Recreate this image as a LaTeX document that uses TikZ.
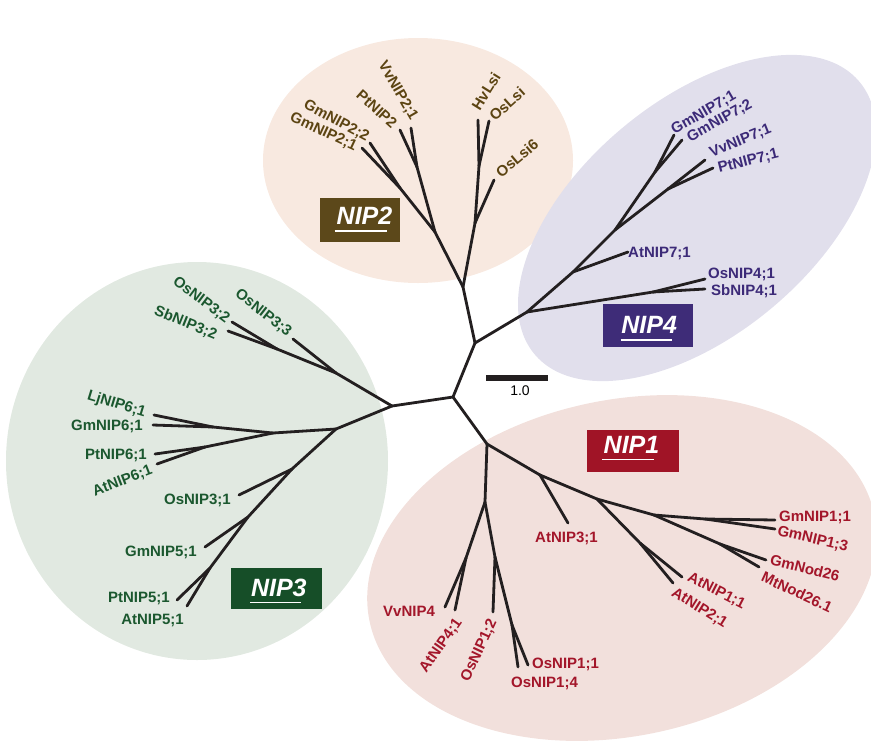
\documentclass[tikz,border=0pt]{standalone}
\usepackage{fontspec}
\setmainfont{Liberation Sans}
\definecolor{c2}{RGB}{92,68,18}
\definecolor{b2}{RGB}{92,72,26}
\definecolor{c4}{RGB}{60,42,120}
\definecolor{b4}{RGB}{62,44,120}
\definecolor{c3}{RGB}{27,88,47}
\definecolor{b3}{RGB}{22,78,40}
\definecolor{c1}{RGB}{163,22,42}
\definecolor{b1}{RGB}{160,20,38}
\definecolor{bg2}{RGB}{248,233,224}
\definecolor{bg4}{RGB}{225,223,236}
\definecolor{bg3}{RGB}{225,233,225}
\definecolor{bg1}{RGB}{242,224,220}
\definecolor{treecol}{RGB}{35,31,32}
\tikzset{
  br/.style={line width=2.8pt, draw=treecol, line cap=round, line join=round},
  lab/.style={font=\fontsize{15}{17}\selectfont\bfseries, inner sep=0pt, text height=10.8pt, text depth=0pt},
  la1/.style={lab, text=c1},
  la2/.style={lab, text=c2},
  la3/.style={lab, text=c3},
  la4/.style={lab, text=c4},
  gbox/.style={inner sep=0pt, draw=none},
  gtxt/.style={font=\fontsize{25}{28}\selectfont\bfseries\itshape, text=white, inner sep=0pt, text height=17.9pt, text depth=0pt, anchor=west},
  uline/.style={draw=white, line width=1.6pt}
}
\begin{document}
\begin{tikzpicture}[x=1pt,y=-1pt]
\useasboundingbox (0,0) rectangle (871,740);
% clade backgrounds
\fill[bg2] (418,160.5) ellipse [x radius=155pt, y radius=122.5pt];
\fill[bg4, rotate around={40:(697,218)}] (697,218) ellipse [x radius=212pt, y radius=117pt];
\fill[bg3] (197,461) ellipse [x radius=191pt, y radius=199pt];
\fill[bg1, rotate around={12:(622,568)}] (622,568) ellipse [x radius=258pt, y radius=168pt];

% clade boxes
\node[gbox, fill=b2, minimum width=80pt, minimum height=44pt] (box2) at (360,220) {};
\node[gtxt] (box2t) at (336.5,216) {NIP2};
\draw[uline] ([xshift=-2pt,yshift=-6pt]box2t.south west) -- ++(52,0);
\node[gbox, fill=b4, minimum width=90pt, minimum height=43pt] (box4) at (647.5,325) {};
\node[gtxt] (box4t) at (621.2,324.7) {NIP4};
\draw[uline] ([xshift=-0.5pt,yshift=-6pt]box4t.south west) -- ++(51,0);
\node[gbox, fill=b3, minimum width=91pt, minimum height=41pt] (box3) at (276.3,588) {};
\node[gtxt] (box3t) at (250.8,587.5) {NIP3};
\draw[uline] ([xshift=-0.5pt,yshift=-6pt]box3t.south west) -- ++(51,0);
\node[gbox, fill=b1, minimum width=92pt, minimum height=42pt] (box1) at (633,450.8) {};
\node[gtxt] (box1t) at (603.5,444.5) {NIP1};
\draw[uline] ([xshift=-1.2pt,yshift=-6pt]box1t.south west) -- ++(52,0);

% scale bar
\node[fill=treecol, minimum width=62pt, minimum height=5.6pt, inner sep=0pt] (bar) at (517,378) {};
\node[font=\fontsize{14}{16}\selectfont, inner sep=0pt] (barlab) at (520,391) {1.0};

% tree coordinates
\coordinate (A) at (475,343);
\coordinate (B) at (453,397);
\coordinate (C) at (392,406);
\coordinate (R1) at (487,444);
\coordinate (R2) at (463,287);
\coordinate (R4) at (527,312);
% NIP2
\coordinate (K) at (435,232);
\coordinate (L) at (400,188);
\coordinate (M) at (417,167);
\coordinate (N) at (475,223);
\coordinate (O) at (479,166);
\coordinate (lGm22) at (370,143);
\coordinate (lGm21) at (362,148);
\coordinate (lPt2) at (400,130);
\coordinate (lVv2) at (411,128);
\coordinate (lHv) at (478,120);
\coordinate (lOsL) at (489,121);
\coordinate (lOsL6) at (494,180);
% NIP4
\coordinate (P) at (573,272);
\coordinate (Q) at (615,230);
\coordinate (G7) at (655,172);
\coordinate (VP) at (668,189);
\coordinate (OS) at (653,292);
\coordinate (lGm71) at (674,135);
\coordinate (lGm72) at (682,140);
\coordinate (lVv7) at (705,160);
\coordinate (lPt7) at (713,168);
\coordinate (lAt7) at (628,252);
\coordinate (lOs4) at (705,279);
\coordinate (lSb4) at (705,289);
% NIP3
\coordinate (I) at (336,373);
\coordinate (J) at (277,349);
\coordinate (lOs32) at (232,322);
\coordinate (lSb32) at (228,331);
\coordinate (lOs33) at (293,339);
\coordinate (D) at (336,429);
\coordinate (E) at (273,433);
\coordinate (LG) at (213,427);
\coordinate (PA) at (205,447);
\coordinate (lLj6) at (154,415);
\coordinate (lGm6) at (153,425);
\coordinate (lPt6) at (155,454);
\coordinate (lAt6) at (157,464);
\coordinate (F) at (292,469);
\coordinate (lOs31) at (239,495);
\coordinate (G) at (248,517);
\coordinate (lGm5) at (205,547);
\coordinate (H) at (210,568);
\coordinate (lPt5) at (177,600);
\coordinate (lAt5) at (187,606);
% NIP1
\coordinate (S) at (485,502);
\coordinate (Z1) at (466,558);
\coordinate (Z2) at (495,557);
\coordinate (Z3) at (512,625);
\coordinate (T) at (540,475);
\coordinate (U) at (597,499);
\coordinate (V) at (640,543);
\coordinate (W) at (654,515);
\coordinate (X) at (705,519);
\coordinate (Y) at (720,544);
\coordinate (lVv4) at (445,607);
\coordinate (lAt4) at (455,610);
\coordinate (lOs12) at (493,612);
\coordinate (lOs14) at (518,667);
\coordinate (lOs11) at (528,665);
\coordinate (lAt3) at (568,523);
\coordinate (lAt1) at (682,577);
\coordinate (lAt2) at (673,583);
\coordinate (lGm11) at (775,520);
\coordinate (lGm13) at (775,529);
\coordinate (lGmNod) at (766,560);
\coordinate (lMtNod) at (759,567);

% branches
\draw[br] (B) -- (A); \draw[br] (A) -- (R2); \draw[br] (A) -- (R4);
\draw[br] (B) -- (C); \draw[br] (B) -- (R1);
% NIP2
\draw[br] (R2) -- (K); \draw[br] (K) -- (L); \draw[br] (L) -- (lGm22); \draw[br] (L) -- (lGm21);
\draw[br] (K) -- (M); \draw[br] (M) -- (lPt2); \draw[br] (M) -- (lVv2);
\draw[br] (R2) -- (N); \draw[br] (N) -- (lOsL6); \draw[br] (N) -- (O);
\draw[br] (O) -- (lHv); \draw[br] (O) -- (lOsL);
% NIP4
\draw[br] (R4) -- (P); \draw[br] (P) -- (lAt7); \draw[br] (P) -- (Q);
\draw[br] (Q) -- (G7); \draw[br] (G7) -- (lGm71); \draw[br] (G7) -- (lGm72);
\draw[br] (Q) -- (VP); \draw[br] (VP) -- (lVv7); \draw[br] (VP) -- (lPt7);
\draw[br] (R4) -- (OS); \draw[br] (OS) -- (lOs4); \draw[br] (OS) -- (lSb4);
% NIP3
\draw[br] (C) -- (I); \draw[br] (I) -- (lOs33); \draw[br] (I) -- (J);
\draw[br] (J) -- (lOs32); \draw[br] (J) -- (lSb32);
\draw[br] (C) -- (D); \draw[br] (D) -- (E); \draw[br] (E) -- (LG);
\draw[br] (LG) -- (lLj6); \draw[br] (LG) -- (lGm6);
\draw[br] (E) -- (PA); \draw[br] (PA) -- (lPt6); \draw[br] (PA) -- (lAt6);
\draw[br] (D) -- (F); \draw[br] (F) -- (lOs31); \draw[br] (F) -- (G);
\draw[br] (G) -- (lGm5); \draw[br] (G) -- (H);
\draw[br] (H) -- (lPt5); \draw[br] (H) -- (lAt5);
% NIP1
\draw[br] (R1) -- (S); \draw[br] (S) -- (Z1); \draw[br] (Z1) -- (lVv4); \draw[br] (Z1) -- (lAt4);
\draw[br] (S) -- (Z2); \draw[br] (Z2) -- (lOs12); \draw[br] (Z2) -- (Z3);
\draw[br] (Z3) -- (lOs14); \draw[br] (Z3) -- (lOs11);
\draw[br] (R1) -- (T); \draw[br] (T) -- (lAt3); \draw[br] (T) -- (U);
\draw[br] (U) -- (V); \draw[br] (V) -- (lAt1); \draw[br] (V) -- (lAt2);
\draw[br] (U) -- (W); \draw[br] (W) -- (X); \draw[br] (X) -- (lGm11); \draw[br] (X) -- (lGm13);
\draw[br] (W) -- (Y); \draw[br] (Y) -- (lGmNod); \draw[br] (Y) -- (lMtNod);

% labels NIP2
\node[la2, rotate=-28] (tGm22) at (337,120) {GmNIP2;2};
\node[la2, rotate=-25] (tGm21) at (324,131) {GmNIP2;1};
\node[la2, rotate=-42] (tPt2) at (377,109) {PtNIP2};
\node[la2, rotate=-60] (tVv2) at (399,90) {VvNIP2;1};
\node[la2, rotate=58] (tHv) at (486,91) {HvLsi};
\node[la2, rotate=42] (tOsL) at (507,104) {OsLsi};
\node[la2, rotate=40] (tOsL6) at (517,158) {OsLsi6};
% labels NIP4
\node[la4, rotate=30] (tGm71) at (703,112) {GmNIP7;1};
\node[la4, rotate=29] (tGm72) at (719,120) {GmNIP7;2};
\node[la4, rotate=22] (tVv7) at (740,140) {VvNIP7;1};
\node[la4, rotate=14] (tPt7) at (748,160) {PtNIP7;1};
\node[la4, anchor=west] (tAt7) at (628,252) {AtNIP7;1};
\node[la4, anchor=west] (tOs4) at (708,273) {OsNIP4;1};
\node[la4, anchor=west] (tSb4) at (711,290) {SbNIP4;1};
% labels NIP3
\node[la3, rotate=-37] (tOs32) at (202,299) {OsNIP3;2};
\node[la3, rotate=-22] (tSb32) at (186,322) {SbNIP3;2};
\node[la3, rotate=-38] (tOs33) at (264,312) {OsNIP3;3};
\node[la3, rotate=-17] (tLj6) at (117,403) {LjNIP6;1};
\node[la3, anchor=east] (tGm6) at (143,425) {GmNIP6;1};
\node[la3, anchor=east] (tPt6) at (147,454) {PtNIP6;1};
\node[la3, rotate=21] (tAt6) at (122,480) {AtNIP6;1};
\node[la3, anchor=east] (tOs31) at (231,499) {OsNIP3;1};
\node[la3, anchor=east] (tGm5) at (197,551) {GmNIP5;1};
\node[la3, anchor=east] (tPt5) at (170,597) {PtNIP5;1};
\node[la3, anchor=east] (tAt5) at (184,619) {AtNIP5;1};
% labels NIP1
\node[la1, anchor=west] (tAt3) at (535,537) {AtNIP3;1};
\node[la1, anchor=west] (tGm11) at (779,516) {GmNIP1;1};
\node[la1, rotate=-13] (tGm13) at (813,538) {GmNIP1;3};
\node[la1, rotate=-14] (tGmNod) at (805,568) {GmNod26};
\node[la1, rotate=-25] (tMtNod) at (797,592) {MtNod26.1};
\node[la1, rotate=-27] (tAt1) at (717,590) {AtNIP1;1};
\node[la1, rotate=-32] (tAt2) at (700,607) {AtNIP2;1};
\node[la1, anchor=west] (tVv4) at (383,611) {VvNIP4};
\node[la1, rotate=55] (tAt4) at (440,645) {AtNIP4;1};
\node[la1, rotate=65] (tOs12) at (478,650) {OsNIP1;2};
\node[la1, anchor=west] (tOs11) at (532,663) {OsNIP1;1};
\node[la1, anchor=west] (tOs14) at (511,682) {OsNIP1;4};
\end{tikzpicture}
\end{document}
